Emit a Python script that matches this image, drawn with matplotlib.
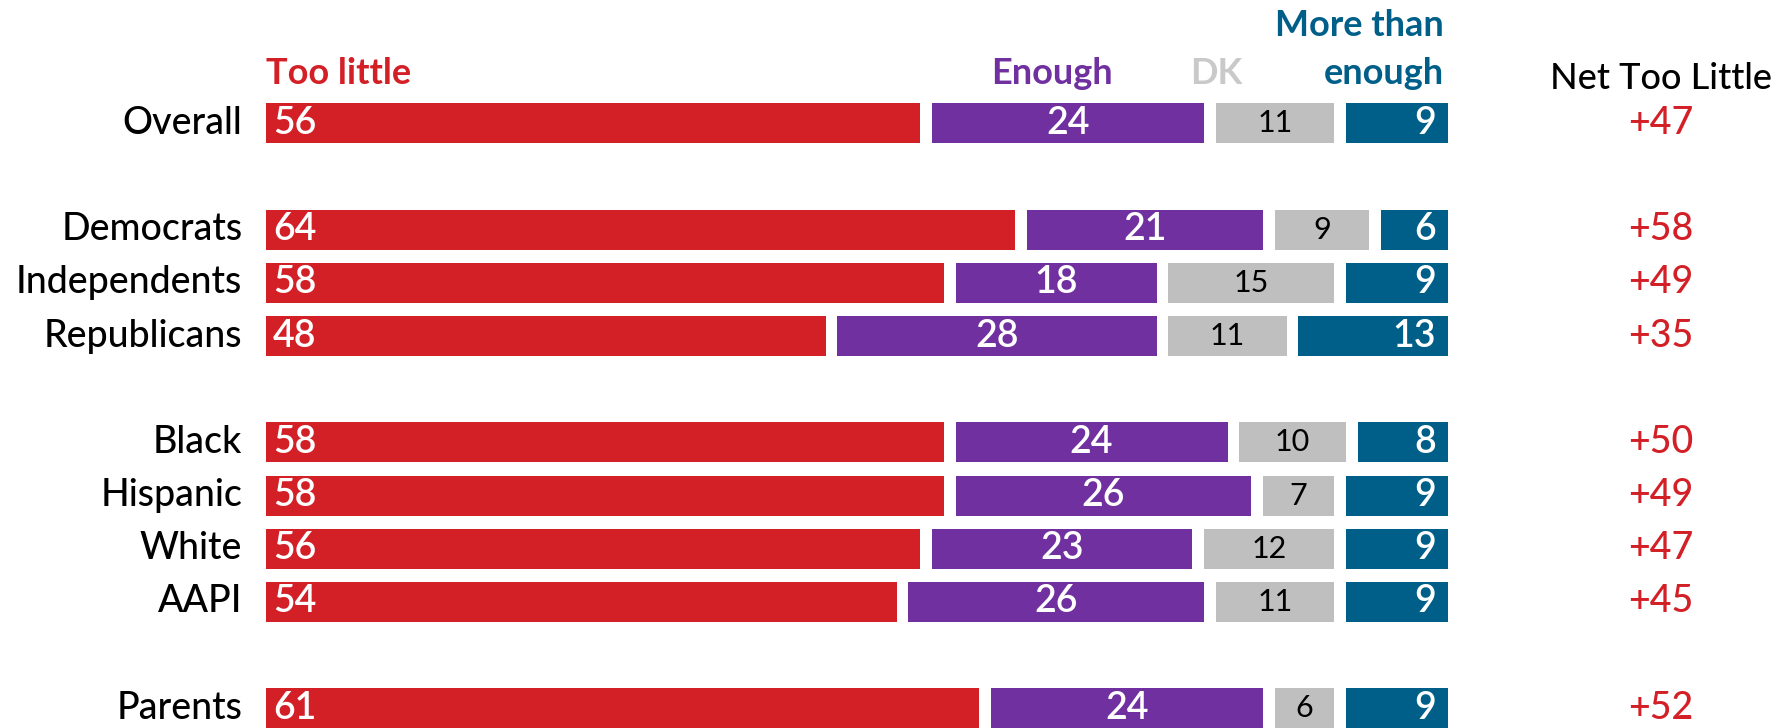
import matplotlib
matplotlib.use('Agg')
import matplotlib.pyplot as plt

plt.rcParams['font.family'] = ['Lato', 'DejaVu Sans']

groups = ['Overall', 'Democrats', 'Independents', 'Republicans',
          'Black', 'Hispanic', 'White', 'AAPI', 'Parents']
rows = [0, 2, 3, 4, 6, 7, 8, 9, 11]
too_little = [56, 64, 58, 48, 58, 58, 56, 54, 61]
enough = [24, 21, 18, 28, 24, 26, 23, 26, 24]
dk = [11, 9, 15, 11, 10, 7, 12, 11, 6]
more_than = [9, 6, 9, 13, 8, 9, 9, 9, 9]
net = ['+47', '+58', '+49', '+35', '+50', '+49', '+47', '+45', '+52']

red = '#D32027'
purple = '#7030A0'
gray = '#BFBFBF'
blue = '#005F89'
dk_head = '#C9C9C9'

fig = plt.figure(figsize=(17.83, 7.28), dpi=100)
ax = fig.add_axes([0, 0, 1, 1])
ax.set_xlim(-22.5, 128.34)
ax.set_ylim(11.37, -2.32)
ax.axis('off')

gap = 0.65
h = 0.75
big = 27
series = [(too_little, red), (enough, purple), (dk, gray), (more_than, blue)]
for i, y in enumerate(rows):
    left = 0
    for k, (vals, col) in enumerate(series):
        v = vals[i]
        x0 = left + (0.35 if k > 0 else 0)
        w = (left + v - gap) - x0 if k < 3 else 100 - x0
        ax.barh(y, w, left=x0, height=h, color=col, edgecolor='none')
        if k == 0:
            ax.text(x0 + 0.6, y, str(v), color='white', fontsize=big,
                    ha='left', va='center', fontweight='semibold')
        elif k == 1:
            ax.text(x0 + w / 2, y, str(v), color='white', fontsize=big,
                    ha='center', va='center', fontweight='semibold')
        elif k == 2:
            ax.text(x0 + w / 2, y, str(v), color='black', fontsize=22,
                    ha='center', va='center')
        else:
            ax.text(x0 + w - 1.0, y, str(v), color='white', fontsize=big,
                    ha='right', va='center', fontweight='semibold')
        left += v
    ax.text(-2.0, y, groups[i], fontsize=big, ha='right', va='center',
            color='black', fontweight='medium')
    ax.text(118.0, y, net[i], fontsize=big, ha='center', va='center',
            color=red, fontweight='medium')

# column headers
ax.text(0, -0.74, 'Too little', color=red, fontsize=26, fontweight='bold',
        ha='left', va='baseline')
ax.text(71.66, -0.74, 'Enough', color=purple, fontsize=26, fontweight='bold',
        ha='right', va='baseline')
ax.text(80.4, -0.74, 'DK', color=dk_head, fontsize=26, fontweight='bold',
        ha='center', va='baseline')
ax.text(99.66, -0.74, 'enough', color=blue, fontsize=26, fontweight='bold',
        ha='right', va='baseline')
ax.text(99.66, -1.64, 'More than', color=blue, fontsize=26, fontweight='bold',
        ha='right', va='baseline')
ax.text(118.0, -0.65, 'Net Too Little', color='black', fontsize=26,
        ha='center', va='baseline', fontweight='medium')

fig.savefig('out.png', dpi=100)
